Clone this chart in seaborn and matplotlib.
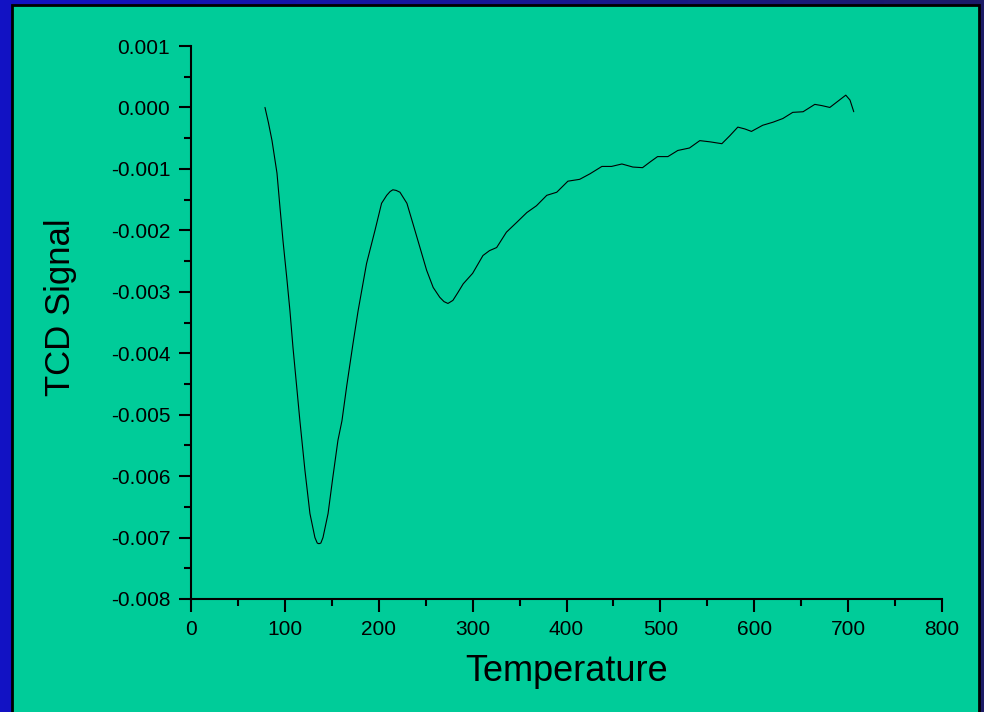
import numpy as np
import pandas as pd
import matplotlib
matplotlib.use("Agg")
import matplotlib.pyplot as plt
from matplotlib.colors import LinearSegmentedColormap
from matplotlib.patches import Rectangle
from matplotlib.ticker import MultipleLocator, FuncFormatter
import seaborn as sns

# values
temperature = [78.8, 82.5, 86.3, 91.6, 94.8, 98, 102, 105.4, 108.6, 112, 116, 121.4,
               126.7, 132, 134.5, 136.3, 138.3, 140.6, 146, 151, 156.5, 160.8, 166, 172.5,
               178, 187, 196, 203, 208.5, 212, 215, 218.5, 222.6, 230, 236.4, 243.9, 251,
               258, 265, 269.5, 273.7, 279, 284, 290, 300, 311, 318, 325.6, 336, 347,
               357.8, 368, 379, 389.6, 401.5, 414, 425, 437.7, 448, 459, 470.7, 481,
               488.8, 497, 508, 518.6, 531, 542, 553, 565.5, 574, 582.5, 590, 597, 609,
               620, 630.5, 641, 652, 664.5, 672, 680.5, 689, 697.5, 702, 706]
tcd_signal = [0.0, -0.00025, -0.00054, -0.00107, -0.00163, -0.00217, -0.00277, -0.00331,
              -0.00390, -0.00445, -0.0051, -0.00591, -0.00661, -0.00700, -0.00709, -0.0071,
              -0.00709, -0.00700, -0.00661, -0.00603, -0.00542, -0.0051, -0.00452, -0.00385,
              -0.00331, -0.00254, -0.002, -0.00156, -0.00143, -0.00137, -0.00134, -0.00135,
              -0.00138, -0.00156, -0.00189, -0.00228, -0.00265, -0.00293, -0.00309, -0.00316,
              -0.00319, -0.00314, -0.00302, -0.00287, -0.0027, -0.00241, -0.00233, -0.00228,
              -0.00203, -0.00187, -0.00171, -0.0016, -0.00143, -0.00138, -0.0012, -0.00117,
              -0.00108, -0.00096, -0.00096, -0.00092, -0.00097, -0.00098, -0.00089, -0.0008,
              -0.0008, -0.0007, -0.00066, -0.00054, -0.00056, -0.00059, -0.00046, -0.00032,
              -0.00035, -0.00039, -0.00029, -0.00024, -0.00018, -0.00008, -0.00007, 0.00005,
              0.00003, 0.0, 0.0001, 0.0002, 0.00012, -0.00007]

df = pd.DataFrame({"Temperature": temperature, "TCD Signal": tcd_signal})

sns.set_style("ticks")
plt.rcParams["font.family"] = ["Liberation Sans", "DejaVu Sans"]
plt.rcParams["axes.unicode_minus"] = False
plt.rcParams["text.color"] = "black"
plt.rcParams["axes.labelcolor"] = "black"

W, H = 984, 712
fig = plt.figure(figsize=(W / 100, H / 100), dpi=100)

# blue gradient backdrop with the green panel on top
bg = fig.add_axes([0, 0, 1, 1], zorder=0)
blue = LinearSegmentedColormap.from_list("blue", ["#1212c4", "#1c1c66"])
bg.imshow(np.linspace(0, 1, 256)[None, :], cmap=blue, aspect="auto",
          extent=(0, W, H, 0))
bg.add_patch(Rectangle((12, 4.5), 967, 720, facecolor="#00cc99",
                       edgecolor="black", linewidth=2))
bg.set_xlim(0, W)
bg.set_ylim(H, 0)
bg.axis("off")

ax = fig.add_axes([191 / W, (H - 599) / H, (942 - 191) / W, (599 - 46) / H], zorder=1)
ax.patch.set_alpha(0)

sns.lineplot(data=df, x="Temperature", y="TCD Signal", ax=ax,
             color="black", linewidth=0.8)

ax.set_xlim(0, 800)
ax.set_ylim(-0.008, 0.001)
ax.xaxis.set_major_locator(MultipleLocator(100))
ax.xaxis.set_minor_locator(MultipleLocator(50))
ax.yaxis.set_major_locator(MultipleLocator(0.001))
ax.yaxis.set_minor_locator(MultipleLocator(0.0005))
ax.yaxis.set_major_formatter(FuncFormatter(lambda v, p: f"{v:.3f}".replace("-0.000", "0.000")))

for side in ["top", "right"]:
    ax.spines[side].set_visible(False)
for side in ["left", "bottom"]:
    ax.spines[side].set_linewidth(1.5)
    ax.spines[side].set_color("black")

ax.tick_params(which="major", direction="out", length=9, width=1.5, labelsize=15,
               colors="black", pad=6)
ax.tick_params(which="minor", direction="out", length=5, width=1.5, colors="black")

ax.set_xlabel("Temperature", fontsize=26, labelpad=11, color="black")
ax.set_ylabel("TCD Signal", fontsize=25, labelpad=24, color="black")
ax.yaxis.label.set_y(0.528)

fig.savefig("out.png", dpi=100)
